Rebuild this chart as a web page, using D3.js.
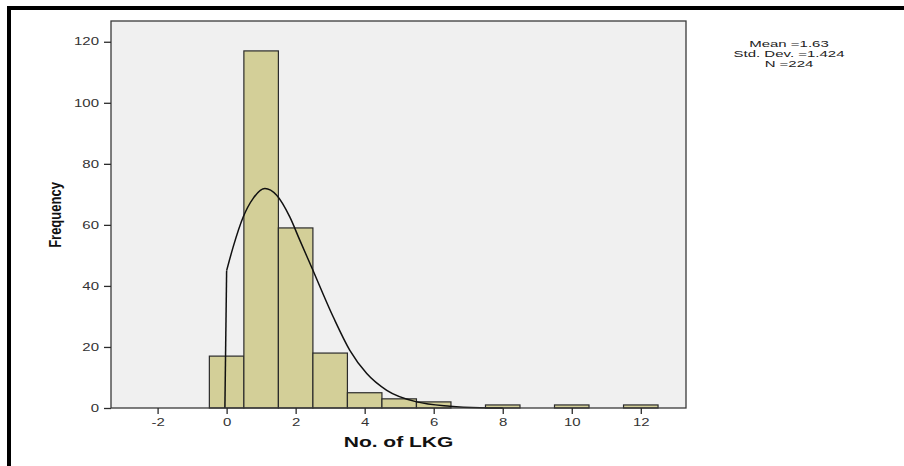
<!DOCTYPE html>
<html>
<head>
<meta charset="utf-8">
<script src="https://cdn.jsdelivr.net/npm/d3@7"></script>
<style>
  body { margin: 0; background: #fff; }
  text { font-family: "Liberation Sans", Arial, sans-serif; }
</style>
</head>
<body>
<div id="chart"></div>
<script>
// histogram data
const binCenters = [0, 1, 2, 3, 4, 5, 6, 8, 10, 12];
const binCounts = [17, 117, 59, 18, 5, 3, 2, 1, 1, 1];
const xTicks = [-2, 0, 2, 4, 6, 8, 10, 12];
const yTicks = [0, 20, 40, 60, 80, 100, 120];
// fitted curve
const curveX = [0, 0.19, 0.48, 0.77, 1.11, 1.45, 1.83, 2.12, 2.46, 3.09, 3.57, 4.06, 4.64, 5.51, 6.47, 7.34, 8.0];
const curveY = [45, 52.8, 62.6, 68.7, 71.9, 69.7, 62.6, 55, 46.2, 29.8, 18.9, 11.3, 5.8, 2.0, 0.6, 0.1, 0];
const statLines = ["Mean =1.63", "Std. Dev. =1.424", "N =224"];

const W = 904, H = 466;
const plot = {left: 111, right: 686, top: 21, bottom: 408};
const sx = 1.5; // the original image is stretched sideways

const svg = d3.select("#chart").append("svg")
    .attr("width", W)
    .attr("height", H);

// outer black frame (top + left only visible)
svg.append("rect").attr("x", 7).attr("y", 6).attr("width", W).attr("height", 4).attr("fill", "#000");
svg.append("rect").attr("x", 7).attr("y", 6).attr("width", 4).attr("height", H).attr("fill", "#000");

const x = d3.scaleLinear().domain([-3.35, 13.31]).range([plot.left, plot.right]);
const y = d3.scaleLinear().domain([0, 126.8]).range([plot.bottom, plot.top]);

// plot background
svg.append("rect")
    .attr("x", plot.left).attr("y", plot.top)
    .attr("width", plot.right - plot.left)
    .attr("height", plot.bottom - plot.top)
    .attr("fill", "#f0f0f0");

// bars
svg.append("g").selectAll("rect")
    .data(binCenters.map((c, i) => ({c, n: binCounts[i]})))
    .join("rect")
    .attr("x", d => x(d.c - 0.5))
    .attr("y", d => y(d.n))
    .attr("width", d => x(d.c + 0.5) - x(d.c - 0.5))
    .attr("height", d => y(0) - y(d.n))
    .attr("fill", "#d3cf98")
    .attr("stroke", "#2b2b2b")
    .attr("stroke-width", 1.2);

// fitted curve: vertical rise at 0 then the smooth part
const pts = curveX.map((v, i) => [v, curveY[i]]);
svg.append("path")
    .attr("d", d3.line().x(d => x(d[0])).y(d => y(d[1]))([[-0.05, 0], [0, 45]]))
    .attr("fill", "none").attr("stroke", "#111").attr("stroke-width", 1.5);
svg.append("path")
    .attr("d", d3.line().curve(d3.curveMonotoneX).x(d => x(d[0])).y(d => y(d[1]))(pts))
    .attr("fill", "none").attr("stroke", "#111").attr("stroke-width", 1.5);

// plot frame
svg.append("rect")
    .attr("x", plot.left).attr("y", plot.top)
    .attr("width", plot.right - plot.left)
    .attr("height", plot.bottom - plot.top)
    .attr("fill", "none")
    .attr("stroke", "#3a3a3a")
    .attr("stroke-width", 1.3);

// axes
const yAxis = svg.append("g")
    .attr("transform", `translate(${plot.left},0)`)
    .call(d3.axisLeft(y).tickValues(yTicks).tickSize(7));
const xAxis = svg.append("g")
    .attr("transform", `translate(0,${plot.bottom})`)
    .call(d3.axisBottom(x).tickValues(xTicks).tickSize(6)
        .tickFormat(d => d < 0 ? "-" + Math.abs(d) : d));
[yAxis, xAxis].forEach(a => {
    a.select(".domain").remove();
    a.selectAll("line").attr("stroke", "#2b2b2b").attr("stroke-width", 1.3);
    a.selectAll("text")
        .attr("font-family", "Liberation Sans, Arial, sans-serif")
        .attr("font-size", "10px")
        .attr("fill", "#333")
        .attr("transform", `scale(${sx},1)`);
});
yAxis.selectAll("text").attr("x", -12 / sx);
xAxis.selectAll("text").attr("y", 10.5);

// axis titles
svg.append("text")
    .attr("transform", `translate(${(plot.left + plot.right) / 2},446.5) scale(${sx},1)`)
    .attr("text-anchor", "middle")
    .attr("font-size", "14px")
    .attr("font-weight", "bold")
    .attr("fill", "#111")
    .text("No. of LKG");

svg.append("text")
    .attr("transform", `translate(61,215) scale(1.25,1) rotate(-90)`)
    .attr("text-anchor", "middle")
    .attr("font-size", "13px")
    .attr("font-weight", "bold")
    .attr("fill", "#111")
    .text("Frequency");

// stats box text
svg.append("g").selectAll("text")
    .data(statLines)
    .join("text")
    .attr("transform", (d, i) => `translate(789,${47 + i * 10.2}) scale(${sx * 10 / 9},1)`)
    .attr("text-anchor", "middle")
    .attr("font-size", "9px")
    .attr("fill", "#222")
    .text(d => d);
</script>
</body>
</html>
